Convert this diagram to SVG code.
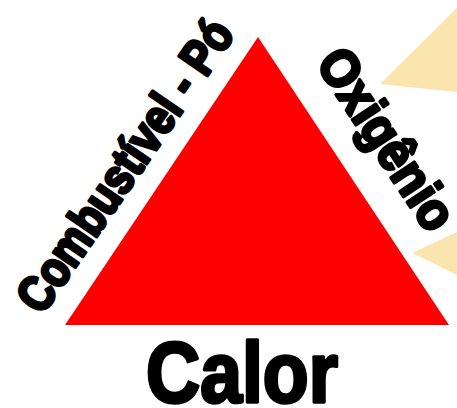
<svg xmlns="http://www.w3.org/2000/svg" width="457" height="408" viewBox="0 0 457 408">
<style>
.lbl{font-family:"Liberation Sans",Arial,sans-serif;font-weight:bold;fill:#000;stroke:#000;stroke-width:3.4;stroke-linejoin:round}
.ray{fill:#fbe2a6;opacity:0.9}
</style>
<rect width="457" height="408" fill="#fff"/>
<g id="rays">
<polygon class="ray" points="380,84 457,8 457,92"/>
<polygon class="ray" points="412,253 457,232 457,275"/>
</g>
<g id="triangle">
<polygon points="258,37 65,325 449,325" fill="#ff0000"/>
</g>
<g id="combustivel">
<text class="lbl" font-size="50" transform="translate(42,316) rotate(-55.5) scale(0.838,1)">Combustível - Pó</text>
</g>
<g id="oxigenio">
<text class="lbl" font-size="53" transform="translate(315,63) rotate(56.5) scale(0.91,1)">Oxigênio</text>
</g>
<g id="calor">
<text class="lbl" font-size="86" stroke-width="5" transform="translate(146,402) scale(0.873,1)">Calor</text>
</g>
</svg>
